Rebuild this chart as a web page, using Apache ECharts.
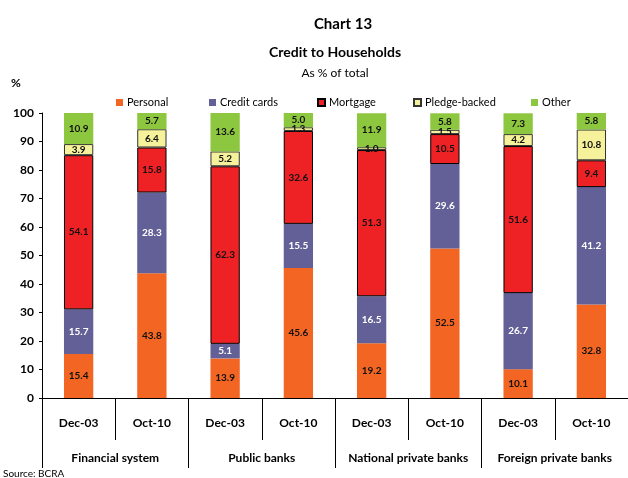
<!DOCTYPE html>
<html>
<head>
<meta charset="utf-8">
<script src="https://cdn.jsdelivr.net/npm/echarts@6/dist/echarts.min.js"></script>
<style>
html,body{margin:0;padding:0;background:#fff;}
#chart{width:628px;height:478px;}
</style>
</head>
<body>
<div id="chart"></div>
<script>
var categories = ["Dec-03","Oct-10","Dec-03","Oct-10","Dec-03","Oct-10","Dec-03","Oct-10"];
var groups = ["Financial system","Public banks","National private banks","Foreign private banks"];
var seriesNames = ['Personal','Credit cards','Mortgage','Pledge-backed','Other'];
var personal = [15.4, 43.8, 13.9, 45.6, 19.2, 52.5, 10.1, 32.8];
var creditCards = [15.7, 28.3, 5.1, 15.5, 16.5, 29.6, 26.7, 41.2];
var mortgage = [54.1, 15.8, 62.3, 32.6, 51.3, 10.5, 51.6, 9.4];
var pledgeBacked = [3.9, 6.4, 5.2, 1.3, 1.0, 1.5, 4.2, 10.8];
var other = [10.9, 5.7, 13.6, 5.0, 11.9, 5.8, 7.3, 5.8];

var FONT = "Lato";
function mkSeries(name, data, color, labelColor, border) {
  var s = {
    name: name, type: 'bar', stack: 'total', data: data, barWidth: '40%',
    xAxisIndex: 0,
    itemStyle: { color: color },
    label: { show: true, position: 'inside', color: labelColor, fontFamily: FONT, fontWeight: 'bold', fontSize: 10,
      formatter: function(p){ return p.value.toFixed(1); } }
  };
  if (border) { s.itemStyle.borderColor = border; s.itemStyle.borderWidth = 1; }
  return s;
}
var legendLefts = [116, 209, 317, 413, 531];
var legends = seriesNames.map(function(n, i){
  return { data: [n], left: legendLefts[i], top: 97, padding: 0, itemWidth: 7, itemHeight: 7, itemGap: 0, icon: 'rect',
    textStyle: { fontFamily: FONT, fontSize: 11, color: '#000', padding: [0,0,0,-1] } };
});
var chart = echarts.init(document.getElementById('chart'));
chart.setOption({
  animation: false,
  textStyle: { fontFamily: FONT },
  title: [
    { text: 'Chart 13', left: 338, top: 12, textAlign: 'center', textStyle: { fontFamily: FONT, fontWeight: 'bold', fontSize: 15, color: '#000' } },
    { text: 'Credit to Households', left: 330, top: 40, textAlign: 'center', textStyle: { fontFamily: FONT, fontWeight: 'bold', fontSize: 14, color: '#000' } },
    { text: 'As % of total', left: 330, top: 62, textAlign: 'center', textStyle: { fontFamily: FONT, fontWeight: 'normal', fontSize: 12, color: '#000' } }
  ],
  legend: legends,
  graphic: [
    { type: 'text', left: 11, top: 77, style: { text: '%', fontFamily: FONT, fontWeight: 'bold', fontSize: 12, fill: '#000' } },
    { type: 'text', left: 3, top: 469, style: { text: 'Source: BCRA', fontFamily: FONT, fontSize: 10, fill: '#000' } }
  ],
  grid: { left: 42, top: 113, width: 589, height: 285 },
  xAxis: [
    { type: 'category', data: categories, position: 'bottom',
      axisLine: { lineStyle: { color: '#000', width: 1 } },
      axisTick: { show: true, interval: 0, length: 42, lineStyle: { color: '#000' } },
      axisLabel: { interval: 0, margin: 19, fontFamily: FONT, fontWeight: 'bold', fontSize: 12, color: '#000' } },
    { type: 'category', data: groups, position: 'bottom',
      axisLine: { show: false },
      axisTick: { show: true, interval: 0, length: 70, lineStyle: { color: '#000' } },
      axisLabel: { interval: 0, margin: 54, fontFamily: FONT, fontWeight: 'bold', fontSize: 12, color: '#000' } }
  ],
  yAxis: {
    type: 'value', min: 0, max: 100, interval: 10,
    axisLine: { show: true, lineStyle: { color: '#000' } },
    axisTick: { show: true, length: 3, lineStyle: { color: '#000' } },
    splitLine: { show: false },
    axisLabel: { margin: 8, fontFamily: FONT, fontWeight: 'bold', fontSize: 12, color: '#000' }
  },
  series: [
    mkSeries('Personal', personal, '#F26522', '#111'),
    mkSeries('Credit cards', creditCards, '#626096', '#fff'),
    mkSeries('Mortgage', mortgage, '#EE2224', '#111', '#000'),
    mkSeries('Pledge-backed', pledgeBacked, '#F5F29B', '#111', '#333'),
    mkSeries('Other', other, '#8DC63F', '#111')
  ]
});
</script>
</body>
</html>
